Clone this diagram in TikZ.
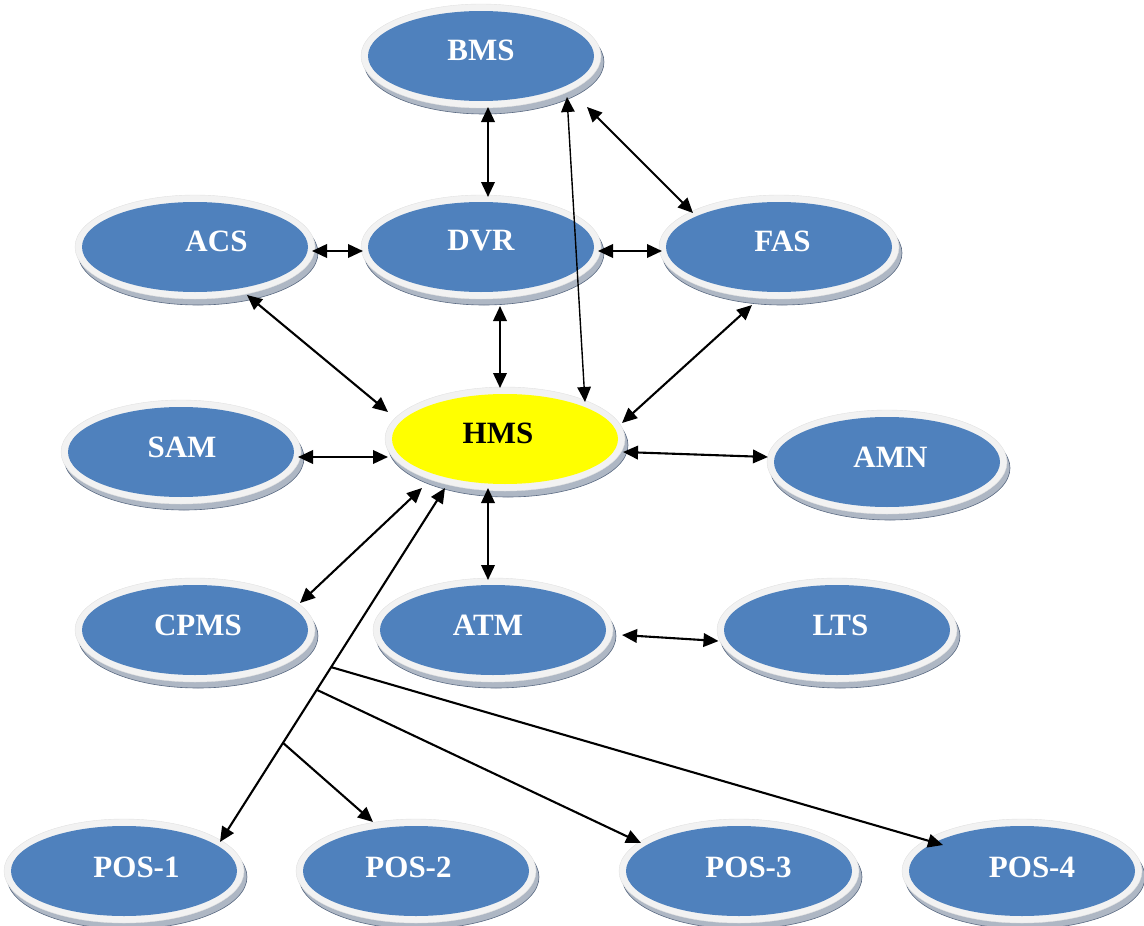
\documentclass[tikz,border=0pt]{standalone}
\usepackage{fontspec}
\setmainfont{Liberation Serif}
\usetikzlibrary{shapes.geometric,arrows.meta,calc}
\definecolor{nodeblue}{HTML}{4F81BD}
\definecolor{rimgray}{HTML}{F2F2F2}
\definecolor{shadowgray}{HTML}{AEB7C4}
\definecolor{shadowedge}{HTML}{5A6A82}
\definecolor{hmsyellow}{HTML}{FFFF00}
\tikzset{
  ell/.style={ellipse, minimum width=240pt, minimum height=104pt, inner sep=0pt, outer sep=0pt,
    fill=rimgray, draw=rimgray!85!gray, line width=0.4pt,
    preaction={fill=shadowgray, draw=shadowedge, line width=0.6pt, transform canvas={shift={(3pt,-6pt)}}},
    path picture={\fill[#1] (path picture bounding box.center) ellipse [x radius=113pt, y radius=45pt];}},
  lbl/.style={font=\fontsize{31}{31}\selectfont\bfseries, inner sep=0pt},
  link/.style={line width=2.1pt, draw=black, >={Triangle[length=15pt,width=13.5pt]}},
  bidir/.style={link, <->},
  onedir/.style={link, ->},
}
\newcommand\ellnode[7]{\node[ell=#3, label={[lbl, text=#4, shift={(#6,#7)}]center:#5}] (#1) at (#2) {};}
\begin{document}
\begin{tikzpicture}[x=1pt, y=-1pt]
\useasboundingbox (0,0) rectangle (1144,926);
% nodes
\ellnode{bms}{481,56}{nodeblue}{white}{BMS}{0}{-5.5}
\ellnode{acs}{195,247}{nodeblue}{white}{ACS}{21.5}{-6}
\ellnode{dvr}{481,247}{nodeblue}{white}{DVR}{0}{-6}
\ellnode{fas}{779,247}{nodeblue}{white}{FAS}{3.5}{-5.5}
\ellnode{hms}{505,439}{hmsyellow}{black}{HMS}{-7}{-5.5}
\ellnode{sam}{181,452}{nodeblue}{white}{SAM}{1}{-5}
\ellnode{amn}{887,462}{nodeblue}{white}{AMN}{3.5}{-5}
\ellnode{cpms}{195,630}{nodeblue}{white}{CPMS}{3}{-4.5}
\ellnode{atm}{493,630}{nodeblue}{white}{ATM}{-5}{-4.5}
\ellnode{lts}{837,630}{nodeblue}{white}{LTS}{3.5}{-4.5}
\ellnode{pos1}{124,871}{nodeblue}{white}{POS-1}{12.5}{-3.5}
\ellnode{pos2}{416,871}{nodeblue}{white}{POS-2}{-7.5}{-3.5}
\ellnode{pos3}{739,871}{nodeblue}{white}{POS-3}{9.5}{-3.5}
\ellnode{pos4}{1022,871}{nodeblue}{white}{POS-4}{10}{-3.5}
% connectors
\draw[bidir] ([shift={(7,51)}]bms.center) -- ([shift={(7,-50)}]dvr.center);
\draw[bidir, line width=1.4pt] ([shift={(86,41)}]bms.center) -- ([shift={(80,-37)}]hms.center);
\draw[bidir] ([shift={(106,51)}]bms.center) -- ([shift={(-86,-34)}]fas.center);
\draw[bidir] ([shift={(117,4)}]acs.center) -- ([shift={(-118,4)}]dvr.center);
\draw[bidir] ([shift={(117,4)}]dvr.center) -- ([shift={(-117,4)}]fas.center);
\draw[bidir] ([shift={(19,59)}]dvr.center) -- ([shift={(-5,-51)}]hms.center);
\draw[bidir] ([shift={(52,48)}]acs.center) -- ([shift={(-117,-27)}]hms.center);
\draw[bidir] ([shift={(-27,58)}]fas.center) -- ([shift={(117,-16)}]hms.center);
\draw[bidir] ([shift={(117,5)}]sam.center) -- ([shift={(-117,18)}]hms.center);
\draw[bidir] ([shift={(118,13)}]hms.center) -- ([shift={(-119,-5)}]amn.center);
\draw[bidir] ([shift={(-83,49)}]hms.center) -- ([shift={(105,-27)}]cpms.center);
\draw[bidir] ([shift={(-17,49)}]hms.center) -- ([shift={(-5,-50)}]atm.center);
\draw[bidir] ([shift={(129,5)}]atm.center) -- ([shift={(-118.5,11)}]lts.center);
% POS trunk and branches
\coordinate (tA) at ([shift={(-60,49)}]hms.center);
\coordinate (tB) at ([shift={(96,-29)}]pos1.center);
\draw[bidir] (tA) -- (tB);
\draw[onedir] ($(tA)!0.506!(tB)$) -- ([shift={(-79,-26)}]pos4.center);
\draw[onedir] ($(tA)!0.57!(tB)$) -- ([shift={(-98,-28)}]pos3.center);
\draw[onedir] ($(tA)!0.72!(tB)$) -- ([shift={(-43,-49)}]pos2.center);
\end{tikzpicture}
\end{document}
